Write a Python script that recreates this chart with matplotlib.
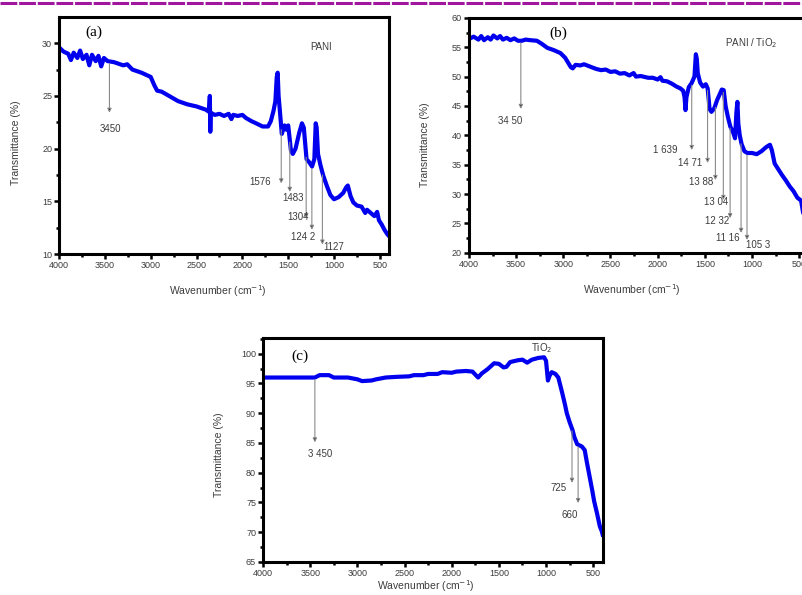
import numpy as np
import matplotlib.pyplot as plt
from matplotlib.lines import Line2D
from matplotlib.ticker import MultipleLocator

plt.rcParams['font.family'] = ['Liberation Sans', 'DejaVu Sans']

# FTIR spectra: wavenumber (cm-1) vs transmittance (%)
pani_wn = [4000, 3950, 3900, 3870, 3840, 3800, 3770, 3740, 3700, 3670, 3640, 3600,
           3570, 3540, 3510, 3470, 3400, 3300, 3256, 3200, 3100, 3000, 2960, 2930,
           2880, 2800, 2700, 2600, 2500, 2400, 2365, 2355, 2350, 2345, 2300, 2250,
           2200, 2150, 2120, 2100, 2050, 2000, 1960, 1900, 1850, 1780, 1720, 1690,
           1660, 1640, 1625, 1615, 1605, 1595, 1570, 1540, 1520, 1500, 1470, 1450,
           1420, 1380, 1350, 1330, 1300, 1270, 1240, 1215, 1200, 1190, 1175, 1150,
           1120, 1080, 1040, 1000, 950, 900, 870, 850, 820, 790, 750, 700, 660, 640,
           600, 560, 530, 510, 480, 450, 420, 400]
pani_t = [29.6, 29.2, 29.0, 28.4, 29.1, 28.6, 29.3, 28.5, 28.9, 27.9, 28.9, 28.3,
          28.8, 27.8, 28.6, 28.3, 28.2, 27.9, 28.0, 27.5, 27.2, 26.8, 26.0, 25.5,
          25.4, 25.0, 24.5, 24.2, 24.0, 23.7, 23.5, 25.0, 21.6, 23.4, 23.2, 23.3,
          23.1, 23.3, 22.8, 23.2, 23.1, 23.2, 22.9, 22.6, 22.4, 22.1, 22.1, 22.6,
          23.6, 24.5, 26.8, 27.2, 25.0, 24.0, 21.4, 22.2, 21.8, 22.2, 19.8, 19.5,
          20.0, 21.5, 22.4, 22.0, 19.0, 18.7, 18.3, 19.0, 22.4, 22.0, 19.5, 18.5,
          17.5, 16.5, 15.6, 15.2, 15.4, 15.8, 16.3, 16.5, 15.5, 14.9, 14.6, 14.5,
          13.9, 14.2, 13.9, 13.6, 14.0, 13.2, 12.8, 12.3, 11.9, 11.7]

comp_wn = [4000, 3950, 3900, 3870, 3840, 3800, 3770, 3740, 3700, 3670, 3640, 3600,
           3560, 3520, 3480, 3440, 3400, 3350, 3280, 3230, 3170, 3100, 3030, 2980,
           2950, 2920, 2900, 2870, 2820, 2780, 2700, 2650, 2600, 2550, 2500, 2450,
           2400, 2350, 2300, 2255, 2230, 2180, 2100, 2050, 2000, 1970, 1950, 1900,
           1850, 1800, 1760, 1730, 1715, 1705, 1695, 1670, 1640, 1610, 1595, 1585,
           1575, 1550, 1520, 1490, 1470, 1450, 1430, 1400, 1370, 1320, 1300, 1280,
           1255, 1230, 1200, 1180, 1165, 1155, 1145, 1130, 1110, 1080, 1050, 1000,
           950, 900, 850, 810, 790, 760, 720, 680, 640, 600, 560, 520, 480, 460,
           440, 400]
comp_t = [56.4, 56.8, 56.3, 56.9, 56.2, 56.7, 56.3, 57.0, 56.5, 56.9, 56.3, 56.6,
          56.2, 56.5, 56.1, 56.1, 56.3, 56.2, 56.1, 55.6, 54.9, 54.5, 54.0, 53.2,
          52.4, 51.6, 51.4, 52.0, 51.9, 52.1, 51.6, 51.3, 51.1, 51.2, 50.8, 50.9,
          50.5, 50.6, 50.2, 50.6, 50.0, 50.1, 49.8, 49.8, 49.5, 49.9, 49.3, 49.2,
          48.8, 48.3, 48.0, 47.6, 46.5, 44.3, 46.5, 48.2, 48.9, 50.0, 53.8, 53.0,
          50.6, 49.0, 48.3, 48.7, 48.0, 44.5, 44.0, 44.6, 46.0, 47.8, 47.7, 45.0,
          43.1, 41.5, 40.5, 39.5, 44.0, 45.7, 42.0, 40.0, 38.5, 37.3, 37.0, 37.0,
          36.8, 37.3, 38.0, 38.4, 37.5, 35.2, 34.2, 33.2, 32.3, 31.3, 30.5, 29.4,
          28.9, 27.0, 25.5, 24.5]

tio2_wn = [4000, 3450, 3400, 3300, 3250, 3100, 3000, 2950, 2850, 2800, 2700, 2600,
           2450, 2400, 2300, 2250, 2150, 2100, 2000, 1950, 1850, 1780, 1720, 1680,
           1620, 1550, 1500, 1450, 1420, 1380, 1300, 1250, 1200, 1150, 1080, 1020,
           1000, 980, 960, 940, 900, 870, 830, 800, 780, 750, 720, 700, 670, 620,
           590, 570, 540, 510, 490, 460, 430, 410, 400]
tio2_t = [96.0, 96.0, 96.4, 96.4, 96.0, 96.0, 95.7, 95.4, 95.5, 95.7, 96.0, 96.1,
          96.2, 96.4, 96.4, 96.6, 96.6, 96.9, 96.8, 97.0, 97.1, 97.0, 96.0, 96.7,
          97.4, 98.4, 98.3, 97.7, 97.8, 98.6, 98.9, 99.0, 98.5, 99.0, 99.3, 99.4,
          98.8, 95.5, 96.4, 96.9, 96.6, 96.0, 93.5, 91.5, 90.0, 88.5, 87.2, 86.0,
          84.8, 84.4, 83.8, 82.0, 79.5, 77.0, 75.2, 73.2, 71.0, 70.2, 69.6]

# peak markers: label text, wavenumber, arrow tip, label position (wn, T)
pani_peaks = [('3450', 3450, 23.4, 3442, 21.9),
              ('1576', 1576, 16.7, 1801, 16.8),
              ('1483', 1483, 15.9, 1451, 15.3),
              ('1304', 1304, 13.4, 1396, 13.5),
              ('124 2', 1242, 12.3, 1342, 11.6),
              ('1127', 1127, 10.9, 1000, 10.7)]
comp_peaks = [('34 50', 3450, 44.5, 3564, 42.4),
              ('1 639', 1639, 37.5, 1915, 37.5),
              ('14 71', 1471, 35.3, 1660, 35.3),
              ('13 88', 1388, 32.4, 1540, 32.0),
              ('13 04', 1304, 29.0, 1380, 28.7),
              ('12 32', 1232, 25.9, 1370, 25.4),
              ('11 16', 1116, 23.4, 1260, 22.6),
              ('105 3', 1053, 22.2, 936, 21.4)]
tio2_peaks = [('3 450', 3450, 85.1, 3392, 83.1),
              ('725', 725, 78.3, 866, 77.4),
              ('660', 660, 74.9, 749, 72.9)]

text_gray = '#3c3c3c'
fig = plt.figure(figsize=(8.03, 5.95), dpi=100)

# dashed rule along the top edge
fig.add_artist(Line2D([0, 1], [0.995, 0.995], transform=fig.transFigure,
                      color='#a0169f', lw=2.2, dashes=(5.5, 0.6)))


def panel(rect, wn, t, ylim, peaks, tag, tag_xy, title, title_xy, label_y, xlabel_y):
    ax = fig.add_axes(rect)
    ax.plot(wn, t, color='#0000ee', lw=3.0, solid_joinstyle='round')
    ax.set_xlim(4000, 400)
    ax.set_ylim(*ylim)
    ax.xaxis.set_major_locator(MultipleLocator(500))
    ax.xaxis.set_minor_locator(MultipleLocator(250))
    ax.yaxis.set_major_locator(MultipleLocator(5))
    ax.yaxis.set_minor_locator(MultipleLocator(2.5))
    for s in ax.spines.values():
        s.set_linewidth(2.2)
    ax.tick_params(which='both', direction='out', width=1.8, top=False, right=False,
                   labelsize=6.5, labelcolor=text_gray, pad=1.5)
    ax.tick_params(which='major', length=3.5)
    ax.tick_params(which='minor', length=2.5)
    ax.set_ylabel('Transmittance (%)', fontsize=7.5, color=text_gray)
    ax.set_xlabel('Wavenumber (cm$^{-1}$)', fontsize=7.5, color=text_gray)
    ax.yaxis.set_label_coords(-0.115, label_y)
    ax.xaxis.set_label_coords(0.48, xlabel_y)

    for lab, x, tip, lx, ly in peaks:
        start = np.interp(x, wn[::-1], t[::-1]) - 0.4 * (ylim[1] - ylim[0]) / 40
        ax.annotate('', xy=(x, tip), xytext=(x, start),
                    arrowprops=dict(arrowstyle='-|>', color='#8a8a8a', fc='#222222',
                                    lw=0.8, mutation_scale=6, shrinkA=0, shrinkB=0))
        ax.text(lx, ly, lab, fontsize=7, color=text_gray, ha='center', va='center')

    ax.text(*tag_xy, tag, transform=ax.transAxes, fontsize=11, ha='center',
            va='center', family=['Liberation Serif', 'DejaVu Serif'])
    ax.text(*title_xy, title, fontsize=7, color=text_gray, ha='center', va='center')
    return ax


panel([0.0735, 0.573, 0.411, 0.398], pani_wn, pani_t, (10, 32.46), pani_peaks,
      '(a)', (0.106, 0.937), 'PANI', (1145, 29.6), 0.47, -0.125)
panel([0.584, 0.575, 0.423, 0.395], comp_wn, comp_t, (20, 60), comp_peaks,
      '(b)', (0.262, 0.936), 'PANI / TiO$_2$', (1010, 55.7), 0.46, -0.125)
panel([0.3275, 0.0555, 0.423, 0.376], tio2_wn, tio2_t, (65, 102.6), tio2_peaks,
      '(c)', (0.109, 0.92), 'TiO$_2$', (1047, 100.9), 0.48, -0.072)

fig.savefig('out.png', dpi=100)
